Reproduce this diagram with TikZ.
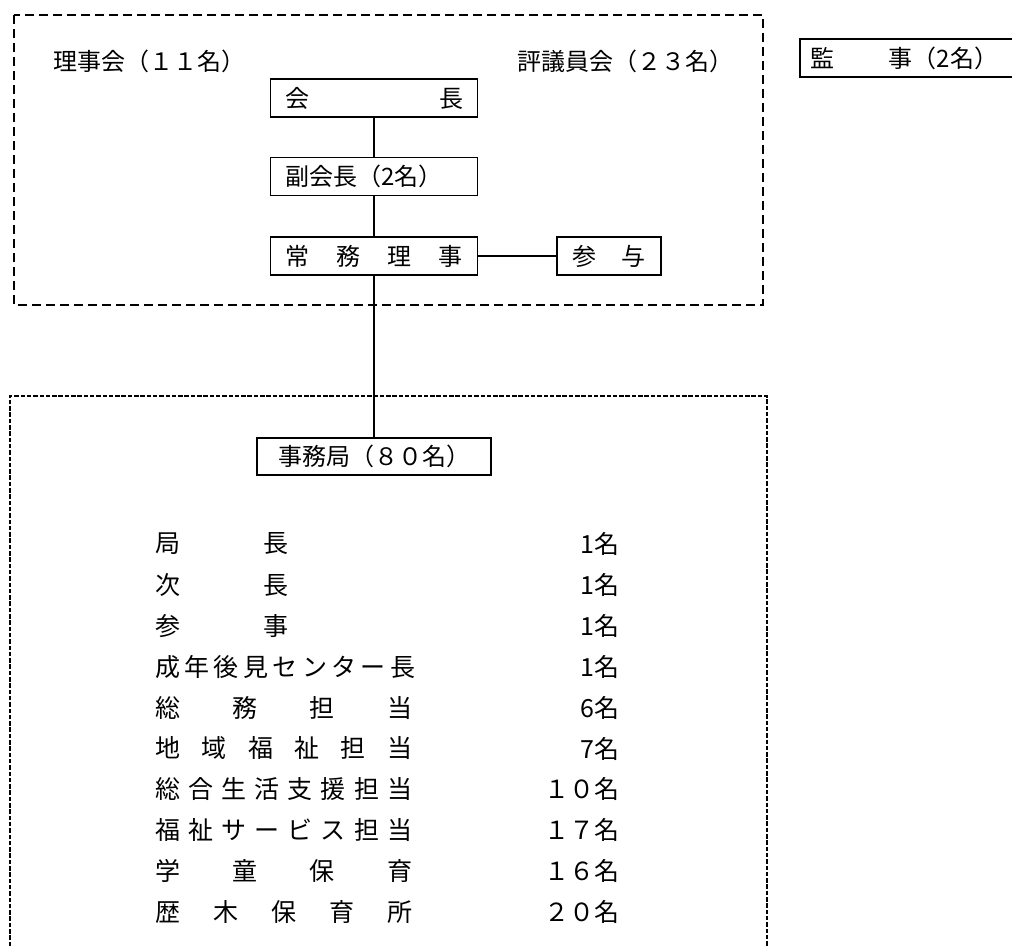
\documentclass[tikz,border=0pt]{standalone}
\usepackage{fontspec}
\setmainfont{Noto Sans CJK JP}
\begin{document}
\begin{tikzpicture}[x=1pt,y=-1pt,
  box/.style={draw, line width=1.8pt, inner sep=0pt, minimum height=38pt, fill=white,
    font=\fontsize{24pt}{24pt}\selectfont},
  txt/.style={inner sep=0pt, font=\fontsize{24pt}{24pt}\selectfont},
  lst/.style={inner sep=0pt, font=\fontsize{25pt}{25pt}\selectfont},
  conn/.style={line width=1.4pt},
  dashA/.style={line width=1.6pt, dash pattern=on 9pt off 5pt},
  dashB/.style={line width=1.5pt, dash pattern=on 4.5pt off 1.8pt}]
\useasboundingbox[fill=white] (0,0) rectangle (1012,947);
\clip (0,0) rectangle (1012,947);

% dashed frames
\draw[dashA] (14,15) rectangle (763,305);
\draw[dashB] (10,965) -- (10,396) -- (767,396) -- (767,965);

% header texts
\node[txt, anchor=west] (rijikai) at (53,61) {理事会（１１名）};
\node[txt, anchor=west] (hyogi) at (517,61) {評議員会（２３名）};

% boxes
\node[box, minimum width=207pt] (kaicho) at (374,98) {\makebox[178pt][l]{会\hfill 長}};
\node[box, minimum width=207pt] (fuku) at (374,176.5) {\makebox[178pt][l]{副会長（2名）}};
\node[box, minimum width=207pt] (jomu) at (374,256) {\makebox[178pt][l]{常\hfill 務\hfill 理\hfill 事}};
\node[box, minimum width=104pt] (sanyo) at (609,256) {\makebox[74pt][l]{参\hfill 与}};
\node[box, minimum width=230pt, anchor=west] (kanji) at (799,58) {\makebox[230pt][l]{\hspace{11pt}監\hspace{54pt}事（2名）}};
\node[box, minimum width=234pt, minimum height=37pt] (jimu) at (374,456.5) {事務局（８０名）};

% connectors
\draw[conn] (kaicho) -- (fuku);
\draw[conn] (fuku) -- (jomu);
\draw[conn] (jomu) -- (jimu);
\draw[conn] (jomu) -- (sanyo);

% staff list
\foreach \lab/\w/\cnt [count=\i from 0] in {
  局\hfill 長/133/1名,
  次\hfill 長/133/1名,
  参\hfill 事/133/1名,
  成\hfill 年\hfill 後\hfill 見\hfill セ\hfill ン\hfill タ\hfill ー\hfill 長/260/1名,
  総\hfill 務\hfill 担\hfill 当/257/6名,
  地\hfill 域\hfill 福\hfill 祉\hfill 担\hfill 当/257/7名,
  総\hfill 合\hfill 生\hfill 活\hfill 支\hfill 援\hfill 担\hfill 当/257/１０名,
  福\hfill 祉\hfill サ\hfill ー\hfill ビ\hfill ス\hfill 担\hfill 当/257/１７名,
  学\hfill 童\hfill 保\hfill 育/257/１６名,
  歴\hfill 木\hfill 保\hfill 育\hfill 所/257/２０名}{
  \node[lst, anchor=west] (lab\i) at (155,{544+40.9*\i}) {\makebox[\w pt][l]{\lab}};
  \node[lst, anchor=east] (cnt\i) at (620,{544+40.9*\i}) {\cnt};
}
\end{tikzpicture}
\end{document}
